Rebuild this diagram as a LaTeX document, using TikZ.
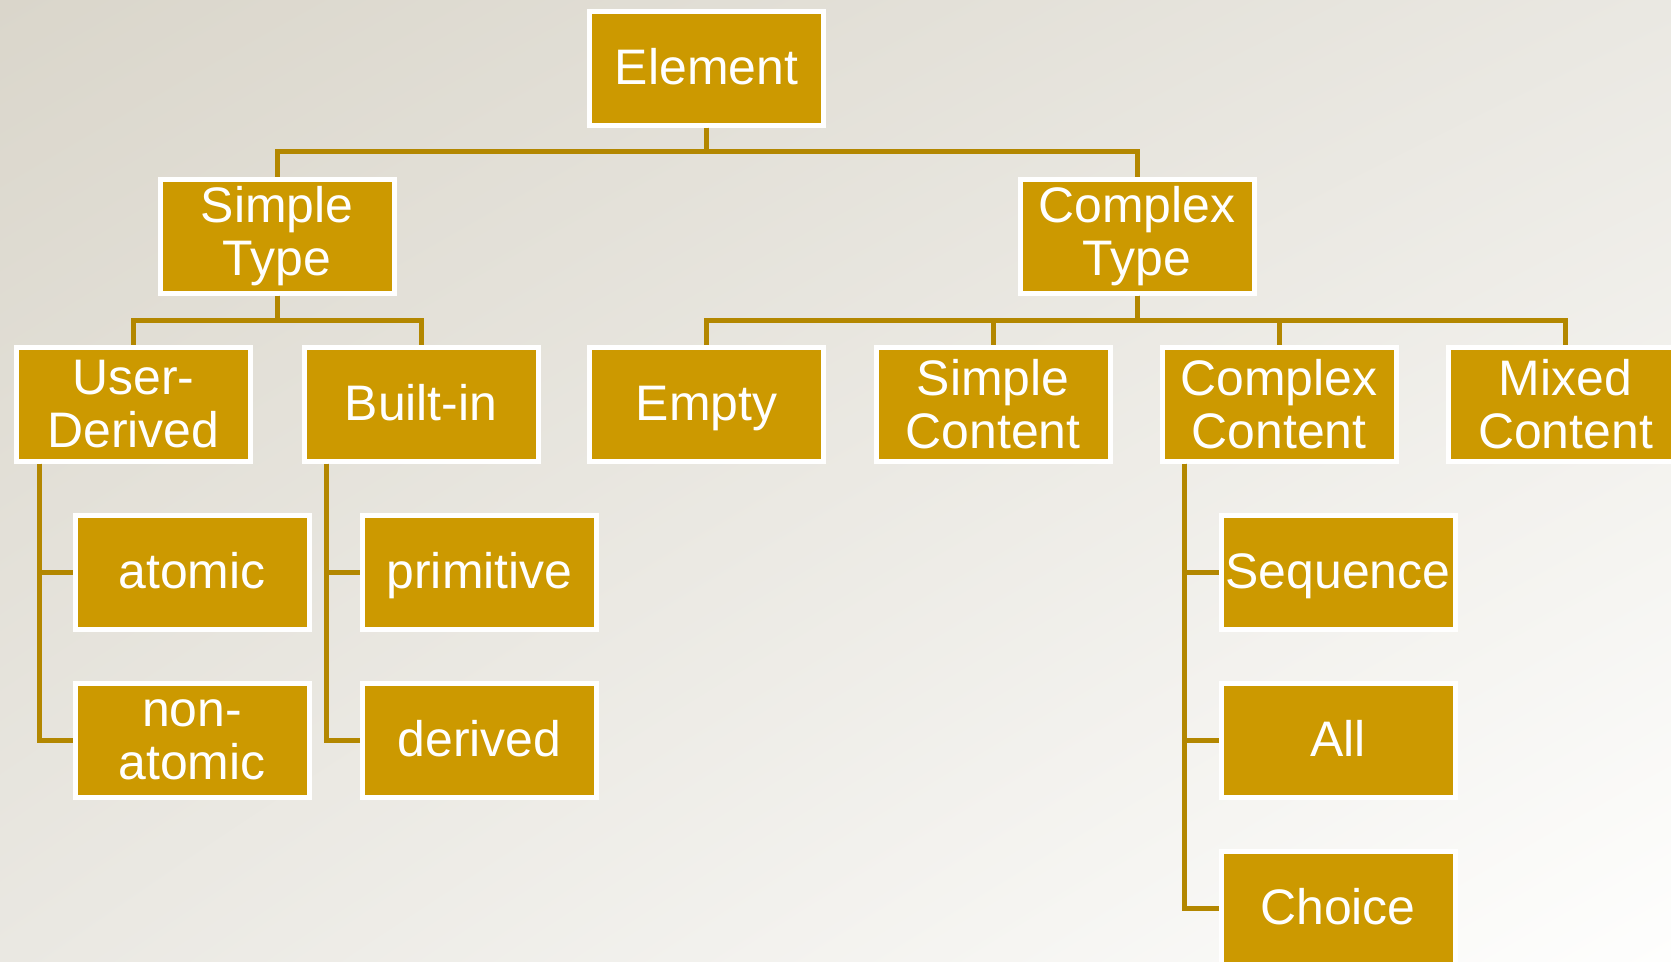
\documentclass[tikz,border=0pt]{standalone}
\usepackage{fontspec}
\setmainfont{Liberation Sans}
\usetikzlibrary{positioning,shadings}
\definecolor{gold}{HTML}{CC9900}
\definecolor{goldline}{HTML}{B38700}
\definecolor{bgdark}{HTML}{DAD6CB}
\definecolor{bgmid}{HTML}{EAE8E2}
\definecolor{bglight}{HTML}{FEFEFD}
\tikzset{
  box/.style={draw=white,line width=0.05cm,fill=gold,text=white,
    minimum width=2.34cm,minimum height=1.14cm,inner sep=0pt,align=center,
    font=\fontsize{14.2}{15.1}\selectfont},
  oneline/.style={box,text height=0.45cm,text depth=0.12cm},
  link/.style={draw=goldline,line width=0.05cm},
}

\begin{document}
\begin{tikzpicture}
    \clip (0,0) rectangle (16.71,-9.61);
    \shade[upper left=bgdark,upper right=bgmid,lower left=bgmid,lower right=bglight]
      (0,0) rectangle (16.71,-9.61);

    % top of the tree
    \node[oneline] (elem) at (7.065,-0.68) {Element};
    \node[box] (simple) at (2.77,-2.36) {Simple\\Type};
    \node[box] (complex) at (11.37,-2.36) {Complex\\Type};

    % second row
    \node[box] (user) at (1.335,-4.04) {User-\\Derived};
    \node[oneline] (builtin) at (4.21,-4.04) {Built-in};
    \node[oneline] (empty) at (7.065,-4.04) {Empty};
    \node[box] (simplec) at (9.93,-4.04) {Simple\\Content};
    \node[box] (complexc) at (12.79,-4.04) {Complex\\Content};
    \node[box] (mixed) at (15.655,-4.04) {Mixed\\Content};

    % leaves
    \node[oneline] (atomic) at (1.92,-5.72) {atomic};
    \node[box] (nonatomic) at (1.92,-7.40) {non-\\atomic};
    \node[oneline] (primitive) at (4.795,-5.72) {primitive};
    \node[oneline] (derived) at (4.795,-7.40) {derived};
    \node[oneline] (sequence) at (13.38,-5.72) {Sequence};
    \node[oneline] (all) at (13.38,-7.40) {All};
    \node[oneline] (choice) at (13.38,-9.08) {Choice};

    \draw[link] (elem.south) -- ++(0,-0.235) -| (simple.north);
    \draw[link] (elem.south) -- ++(0,-0.235) -| (complex.north);
    \foreach \n in {user,builtin}
      \draw[link] (simple.south) -- ++(0,-0.245) -| (\n.north);
    \foreach \n in {empty,simplec,complexc,mixed}
      \draw[link] (complex.south) -- ++(0,-0.245) -| (\n.north);

    % side rails down to the leaves
    \foreach \n in {atomic,nonatomic}
      \draw[link] ([xshift=0.25cm]user.south west) |- (\n.west);
    \foreach \n in {primitive,derived}
      \draw[link] ([xshift=0.25cm]builtin.south west) |- (\n.west);
    \foreach \n in {sequence,all,choice}
      \draw[link] ([xshift=0.25cm]complexc.south west) |- (\n.west);
\end{tikzpicture}
\end{document}
